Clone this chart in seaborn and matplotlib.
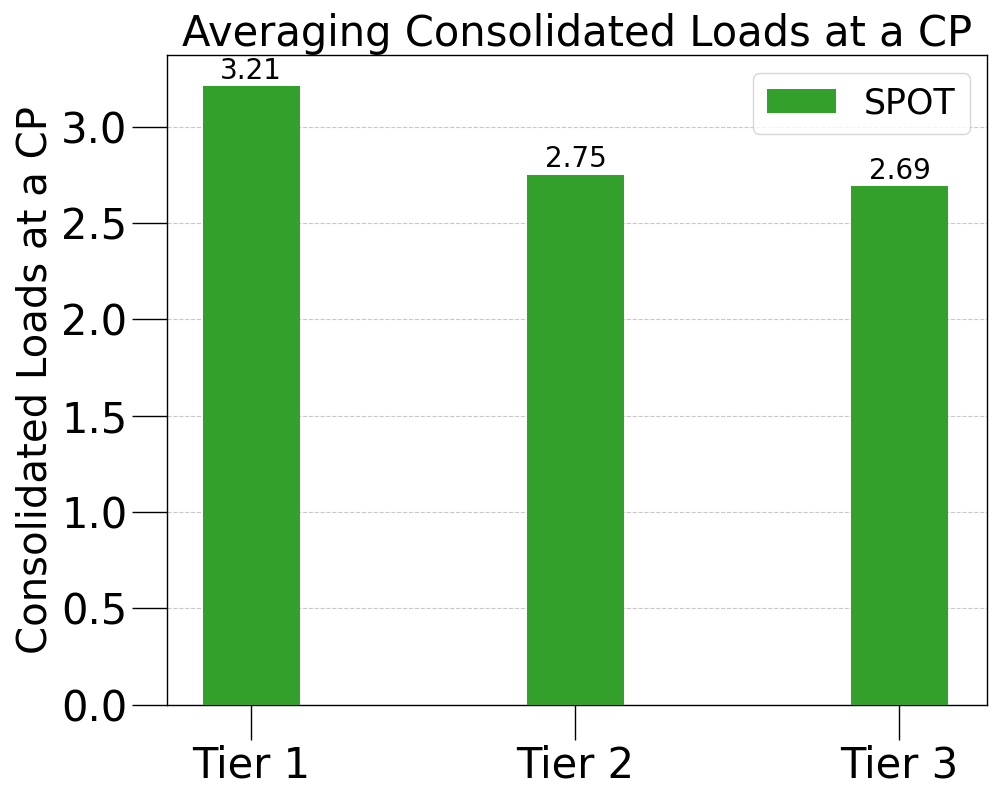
import matplotlib
matplotlib.use("Agg")
import matplotlib.pyplot as plt
import pandas as pd
import seaborn as sns

tiers = ["Tier 1", "Tier 2", "Tier 3"]
spot_loads = [3.21, 2.75, 2.69]

df = pd.DataFrame({"tier": tiers, "loads": spot_loads, "method": "SPOT"})

sns.set_style("ticks")
plt.rcParams["font.family"] = ["DejaVu Sans"]
plt.rcParams["text.color"] = "black"
plt.rcParams["axes.labelcolor"] = "black"
plt.rcParams["xtick.color"] = "black"
plt.rcParams["ytick.color"] = "black"

fig, ax = plt.subplots(figsize=(10, 8), dpi=100)
sns.barplot(data=df, x="tier", y="loads", hue="method", palette=["#33a02c"],
            saturation=1, width=0.3, linewidth=0, ax=ax, zorder=3)

for container in ax.containers:
    ax.bar_label(container, fmt="%.2f", fontsize=20, padding=1, color="black")

ax.set_xlim(-0.26, 2.27)
ax.set_ylim(0, 3.37)
ax.set_title("Averaging Consolidated Loads at a CP", fontsize=30, color="black")
ax.set_ylabel("Consolidated Loads at a CP", fontsize=29)
ax.set_xlabel("")
ax.tick_params(axis="both", labelsize=30, length=25, width=1, direction="out",
               colors="black")
ax.yaxis.grid(True, linestyle="--", color="#c8c8c8", linewidth=0.8, zorder=0)
ax.set_axisbelow(True)
for spine in ax.spines.values():
    spine.set_visible(True)
    spine.set_color("black")
    spine.set_linewidth(1)

leg = ax.legend(loc="upper right", fontsize=25, handlelength=2.0, title=None)
for t in leg.get_texts():
    t.set_color("black")

fig.subplots_adjust(left=0.167, right=0.987, top=0.931, bottom=0.119)
fig.savefig("out.png", dpi=100)
plt.close(fig)
